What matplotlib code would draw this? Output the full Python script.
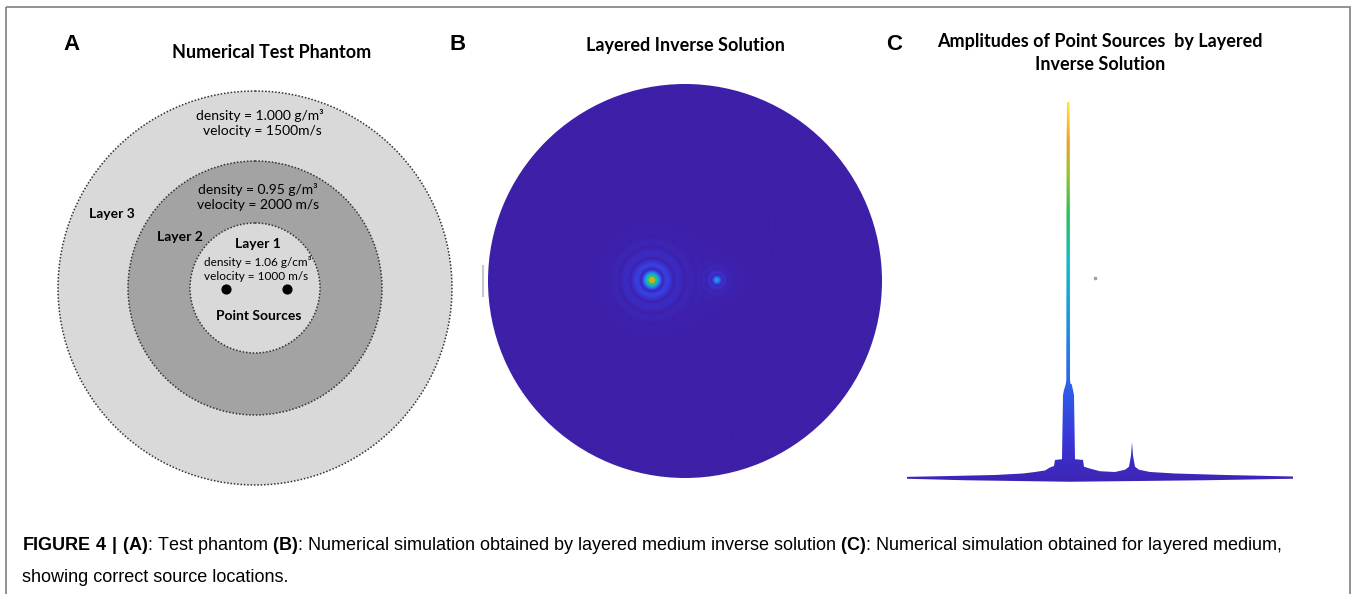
import numpy as np
import matplotlib
matplotlib.use("Agg")
import matplotlib.pyplot as plt
from matplotlib.patches import Circle, Polygon, Rectangle
from matplotlib.colors import LinearSegmentedColormap

plt.rcParams['mathtext.fontset'] = 'custom'
plt.rcParams['mathtext.rm'] = 'Liberation Sans'
plt.rcParams['mathtext.bf'] = 'Liberation Sans:bold'

W, H = 1354, 594

# --- panel A: phantom layers (radius in px, fill colour)
layer_radii = [197, 127, 65]
layer_fills = ['#d9d9d9', '#a3a3a3', '#d9d9d9']
phantom_center = (255, 288)
source_x = [226, 287]
source_y = [289, 289]

# --- panel B: reconstructed sources (offset from disc centre, px), amplitude, width
b_src_x = [-33, 32]
b_src_y = [1, 1]
b_src_amp = [1.0, 0.55]
b_src_w = [11.0, 5.5]
b_radius = 197

# --- panel C: amplitude profile (x in px along base, amplitude 0..1)
prof_x = [2, 40, 90, 118, 130, 140, 145, 149, 150, 157, 158, 159, 160.8, 161.3, 161.6, 162.0,
          164.4, 164.8, 165.0, 165.6, 166.6, 168, 169, 170, 178, 179, 185, 195, 210, 220, 224,
          226, 227, 228, 230, 234, 245, 270, 320, 388]
prof_amp = [0.003, 0.005, 0.008, 0.012, 0.016, 0.02, 0.028, 0.032, 0.048, 0.05, 0.22, 0.234,
            0.25, 0.26, 0.9, 1.0, 1.0, 0.9, 0.26, 0.25, 0.25, 0.234, 0.22, 0.05, 0.048, 0.03,
            0.025, 0.018, 0.016, 0.022, 0.03, 0.06, 0.096, 0.06, 0.03, 0.022, 0.016, 0.012,
            0.008, 0.004]
prof_floor = [-0.002, -0.006, -0.01, -0.006, -0.002]
prof_floor_x = [388, 300, 165, 60, 2]

cmap = LinearSegmentedColormap.from_list('par', [
    (0.0, '#3e1fa8'), (0.14, '#3a34d6'), (0.3, '#2b66ee'), (0.45, '#1b96e0'),
    (0.6, '#12bcc4'), (0.72, '#2cc054'), (0.82, '#9cc02c'), (0.9, '#f0a030'),
    (1.0, '#f8e838')])

fig = plt.figure(figsize=(W / 100, H / 100), dpi=100)
ax = fig.add_axes([0, 0, 1, 1])
ax.set_xlim(0, W)
ax.set_ylim(H, 0)
ax.axis('off')

ax.add_patch(Rectangle((6, 7), 1344, 600, fill=False, ec='#7f7f7f', lw=1.2))

# panel A
for r, c in zip(layer_radii, layer_fills):
    ax.add_patch(Circle(phantom_center, r, fc=c, ec='#333333', lw=1.1, ls=(0, (1, 1.2))))
ax.scatter(source_x, source_y, s=40, color='black', zorder=5)

lab = dict(family='Liberation Sans', fontweight='bold', fontsize=16, ha='center', va='center')
ax.text(72, 45, 'A', **lab)
ax.text(458, 45, 'B', **lab)
ax.text(894, 45, 'C', **lab)

tt = dict(family='Lato', fontweight='bold', fontsize=13, ha='center', va='center')
ax.text(272, 52, 'Numerical Test Phantom', **tt)
ax.text(685, 46, 'Layered Inverse Solution', **tt)
ax.text(1100, 42, 'Amplitudes of Point Sources  by Layered', **tt)
ax.text(1100, 65, 'Inverse Solution', **tt)

tx = dict(family='Lato', fontsize=10, ha='center', va='center')
ax.text(260, 115, 'density = 1.000 g/m³', **tx)
ax.text(262, 131, 'velocity = 1500m/s', **tx)
ax.text(258, 189, 'density = 0.95 g/m³', **tx)
ax.text(258, 205, 'velocity = 2000 m/s', **tx)
ax.text(258, 262, 'density = 1.06 g/cm³', family='Lato', fontsize=8.5, ha='center', va='center')
ax.text(256, 277, 'velocity = 1000 m/s', family='Lato', fontsize=8.5, ha='center', va='center')
tb = dict(family='Lato', fontweight='bold', fontsize=10, ha='center', va='center')
ax.text(112, 214, 'Layer 3', **tb)
ax.text(180, 237, 'Layer 2', **tb)
ax.text(258, 244, 'Layer 1', **tb)
ax.text(259, 316, 'Point Sources', **tb)

# faint artefact left of disc B
ax.plot([483, 483], [266, 296], color='#c8c8c8', lw=1.5)
ax.plot([1095], [278], marker='s', ms=1.5, color='#a0a0a0')

# caption
cap = dict(family='Liberation Sans', fontsize=13, ha='left', va='center')
ax.text(22, 546, r'$\mathbf{FIGURE\ 4\ |\ (A)}$: Test phantom $\mathbf{(B)}$: Numerical simulation '
        r'obtained by layered medium inverse solution $\mathbf{(C)}$: Numerical simulation '
        r'obtained for layered medium,', **cap)
ax.text(22, 578, 'showing correct source locations.', **cap)

# panel B
axb = fig.add_axes([485 / W, 1 - 481 / H, 400 / W, 400 / H])
axb.set_xlim(-200, 200)
axb.set_ylim(-200, 200)
axb.axis('off')
g = np.linspace(-200, 200, 801)
gx, gy = np.meshgrid(g, g)
field = np.zeros_like(gx)
for sx, sy, a, w in zip(b_src_x, b_src_y, b_src_amp, b_src_w):
    rr = np.hypot(gx - sx, gy - sy)
    field += a * np.abs(np.sinc(rr / w)) ** 0.7 * np.exp(-rr / (w * 2.2))
im = axb.imshow(np.clip(field, 0, 0.88), extent=(-200, 200, -200, 200), origin='lower',
                cmap=cmap, vmin=0, vmax=1, interpolation='bilinear')
disc = Circle((0, 0), b_radius, transform=axb.transData)
im.set_clip_path(disc)

# panel C
axc = fig.add_axes([905 / W, 1 - 485 / H, 392 / W, 390 / H])
axc.set_xlim(0, 392)
axc.set_ylim(-7 / 376, 1 + 7 / 376)
axc.axis('off')
verts = list(zip(prof_x, prof_amp)) + list(zip(prof_floor_x, prof_floor))
poly = Polygon(verts, closed=True, fc='none', ec='none')
axc.add_patch(poly)
grad = np.linspace(0, 1, 400).reshape(-1, 1)
grad = np.clip(grad * 0.97 + 0.03, 0, 1)
imc = axc.imshow(grad, extent=(0, 392, -0.02, 1.0), origin='lower', cmap=cmap,
                 vmin=0, vmax=1, aspect='auto')
imc.set_clip_path(poly)

fig.savefig('out.png', dpi=100)
